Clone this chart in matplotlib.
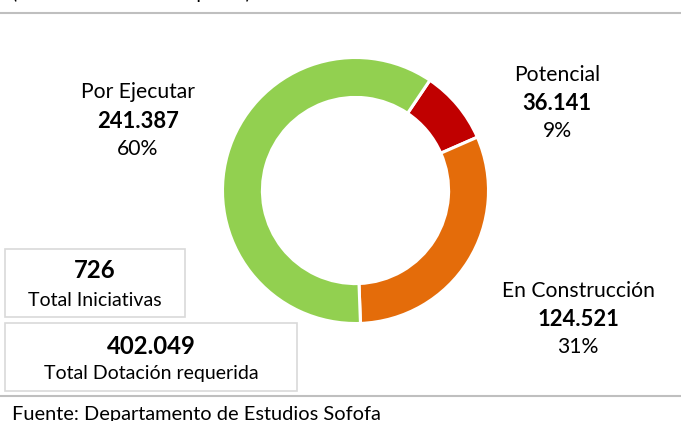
import matplotlib
matplotlib.use("Agg")
import matplotlib.pyplot as plt
from matplotlib.patches import Rectangle
from matplotlib.lines import Line2D

# ---- data ----
categories = ["Potencial", "En Construcción", "Por Ejecutar"]
values = [36.141, 124.521, 241.387]
value_labels = ["36.141", "124.521", "241.387"]
pct_labels = ["9%", "31%", "60%"]
colors = ["#C00000", "#E46C0A", "#92D050"]
total_iniciativas = "726"
total_dotacion = "402.049"
subtitle = "(Miles de millones de pesos)"
source = "Fuente: Departamento de Estudios Sofofa"

W, H = 681, 421
plt.rcParams['font.family'] = ['Lato', 'DejaVu Sans']
fig = plt.figure(figsize=(W / 100, H / 100), dpi=100)
fig.patch.set_facecolor("white")


def fx(x):
    return x / W


def fy(y):
    return 1 - y / H


# donut
cx, cy, r = 355.5, 190.5, 133
ax = fig.add_axes([fx(cx - r), fy(cy + r), 2 * r / W, 2 * r / H])
ax.pie(values, colors=colors, startangle=56, counterclock=False, radius=1,
       wedgeprops=dict(width=0.3, edgecolor="white", linewidth=2.2))
ax.set_xlim(-1, 1)
ax.set_ylim(-1, 1)
ax.set_aspect("equal")
ax.axis("off")

# labels
label_pos = {"Potencial": (557, [75, 103, 131]),
             "En Construcción": (578, [291, 319, 347]),
             "Por Ejecutar": (138, [92, 121, 149])}
for cat, v, p in zip(categories, value_labels, pct_labels):
    x, ys = label_pos[cat]
    fig.text(fx(x), fy(ys[0]), cat, ha="center", va="center", fontsize=15.2, color="black")
    fig.text(fx(x), fy(ys[1]), v, ha="center", va="center", fontsize=15.8,
             fontweight="bold", color="black")
    fig.text(fx(x), fy(ys[2]), p, ha="center", va="center", fontsize=15.2, color="black")

# boxes
box_col = "#D9D9D9"
fig.patches.append(Rectangle((fx(5), fy(317)), (185 - 5) / W, (317 - 249) / H,
                             transform=fig.transFigure, fill=False,
                             edgecolor=box_col, linewidth=1.2))
fig.patches.append(Rectangle((fx(5), fy(391)), (297 - 5) / W, (391 - 323) / H,
                             transform=fig.transFigure, fill=False,
                             edgecolor=box_col, linewidth=1.2))
fig.text(fx(95), fy(271), total_iniciativas, ha="center", va="center",
         fontsize=17.2, fontweight="bold", color="black")
fig.text(fx(95), fy(300), "Total Iniciativas", ha="center", va="center",
         fontsize=14, color="black")
fig.text(fx(151), fy(346), total_dotacion, ha="center", va="center",
         fontsize=17.2, fontweight="bold", color="black")
fig.text(fx(151), fy(374), "Total Dotación requerida", ha="center", va="center",
         fontsize=14, color="black")

# rules
fig.lines.append(Line2D([0, 1], [fy(12.5), fy(12.5)], transform=fig.transFigure,
                        color="#BFBFBF", linewidth=1.5))
fig.lines.append(Line2D([0, 1], [fy(396), fy(396)], transform=fig.transFigure,
                        color="#BFBFBF", linewidth=1.5))

# top (cut) subtitle and bottom source
fig.text(fx(12), fy(-1), subtitle, ha="left", va="baseline", fontsize=14, color="black")
fig.text(fx(12), fy(420), source, ha="left", va="baseline", fontsize=14.4, color="black")

fig.savefig("out.png", dpi=100, facecolor="white")
